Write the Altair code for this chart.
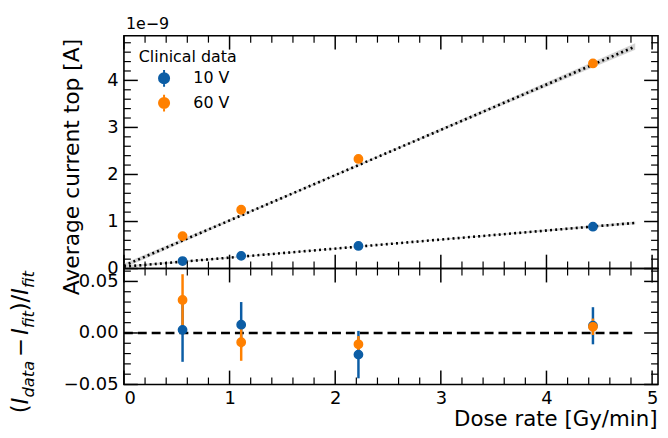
import altair as alt
import pandas as pd
import numpy as np

# ---------------- data ----------------
dose = [0.555, 1.11, 2.22, 4.44]                 # Gy/min
cur_10v = [0.16, 0.27, 0.48, 0.89]                # x 1e-9 A
cur_60v = [0.69, 1.25, 2.33, 4.36]                # x 1e-9 A
res_10v = [0.003, 0.008, -0.021, 0.007]           # (I_data - I_fit)/I_fit
err_10v = [0.031, 0.022, 0.023, 0.018]
res_60v = [0.032, -0.009, -0.011, 0.006]
err_60v = [0.025, 0.018, 0.008, 0.008]
fit_x = [0.0, 4.84]
fit_10v = [0.04, 0.97]
fit_60v = [0.06, 4.72]
band_x = [0.0, 1.2, 2.4, 3.6, 4.84]
band_10v = [0.025, 0.012, 0.008, 0.015, 0.03]
band_60v = [0.05, 0.025, 0.02, 0.04, 0.07]
zero_x = [0.0, 4.84]
series = ["10 V", "60 V"]
colors = ["#0C5DA5", "#FF8000"]

x_major = [0, 1, 2, 3, 4, 5]
x_minor = [round(i * 0.2, 2) for i in range(1, 25) if i % 5 != 0]
ytop_major = [0, 1, 2, 3, 4]
ytop_minor = [round(i * 0.2, 2) for i in range(1, 25) if i % 5 != 0]
ybot_major = [-0.05, 0.0, 0.05]
ybot_minor = [round(i * 0.01, 3) for i in range(-4, 7) if i % 5 != 0]

FONT = "DejaVu Sans"
W, H1, H2 = 539, 235, 117
XMAX = 5.056
MAJ, MIN = 14, 7

# ---------------- tables ----------------
pts = pd.DataFrame({
    "x": dose * 2,
    "y": cur_10v + cur_60v,
    "series": [series[0]] * 4 + [series[1]] * 4,
})
res = pd.DataFrame({
    "x": dose * 2,
    "y": res_10v + res_60v,
    "err": err_10v + err_60v,
    "series": [series[0]] * 4 + [series[1]] * 4,
})
res["lo"] = res["y"] - res["err"]
res["hi"] = res["y"] + res["err"]
fit = pd.DataFrame({
    "x": fit_x * 2,
    "y": fit_10v + fit_60v,
    "series": [series[0]] * 2 + [series[1]] * 2,
})
band = pd.DataFrame({
    "x": band_x * 2,
    "hw": band_10v + band_60v,
    "series": [series[0]] * 5 + [series[1]] * 5,
})
# band centred on the straight fit line
band["c"] = list(np.interp(band_x, fit_x, fit_10v)) + list(np.interp(band_x, fit_x, fit_60v))
band["lo"] = band["c"] - band["hw"]
band["hi"] = band["c"] + band["hw"]
zero = pd.DataFrame({"x": zero_x, "y": [0.0, 0.0]})

xs = alt.Scale(domain=[0, XMAX], nice=False, zero=False)
ys_top = alt.Scale(domain=[0, 4.95], nice=False, zero=False)
ys_bot = alt.Scale(domain=[-0.05, 0.0625], nice=False, zero=False)
cs = alt.Scale(domain=series, range=colors)

ax_x_top = alt.Axis(labels=False, ticks=False, domain=False, grid=False, title=None)
ax_x_bot = alt.Axis(values=x_major, ticks=False, tickSize=0, domain=False, grid=False,
                    labelFontSize=18, labelPadding=5, labelFont=FONT, labelColor="black",
                    title="Dose rate [Gy/min]", titleFontSize=21.5, titleFont=FONT,
                    titleFontWeight="normal", titleColor="black", titleAlign="right",
                    titleX=538, titleY=41.5, titleBaseline="alphabetic", format="d")
ax_y_top = alt.Axis(values=ytop_major, ticks=False, tickSize=0, domain=False, grid=False,
                    labelFontSize=18, labelPadding=6, labelFont=FONT, labelColor="black",
                    format="d", title="Average current top [A]", titleFontSize=22,
                    titleFont=FONT, titleFontWeight="normal", titleColor="black",
                    titleAngle=270, titleAlign="center", titleBaseline="alphabetic",
                    titleX=-46, titleY=132)
ax_y_bot = alt.Axis(values=ybot_major, ticks=False, tickSize=0, domain=False, grid=False,
                    labelFontSize=18, labelPadding=6, labelFont=FONT, labelColor="black",
                    format=".2f", title=None)

legend = alt.Legend(
    title="Clinical data", orient="none", legendX=15, legendY=14,
    titleFontSize=16, titleFont=FONT, titleFontWeight="normal", titleColor="black",
    labelFontSize=16, labelFont=FONT, labelColor="black",
    symbolType="M0,-1L0,1M-0.6,0A0.6,0.6,0,1,1,0.6,0A0.6,0.6,0,1,1,-0.6,0Z",
    symbolSize=289, symbolStrokeWidth=2, symbolOffset=16, labelOffset=20,
    rowPadding=0, titlePadding=3.5, padding=0,
)


def tick_layers(xmaj, xmin, ymaj, ymin, xaxis, yaxis, ysc, h):
    out = []
    for vals, ln, sw in ((xmaj, MAJ, 1.5), (xmin, MIN, 1.2)):
        d = pd.DataFrame({"v": vals})
        base = alt.Chart(d).mark_rule(color="black", strokeWidth=sw)
        out.append(base.encode(x=alt.X("v:Q", scale=xs, axis=xaxis),
                               y=alt.value(h), y2=alt.value(h - ln)))
        out.append(base.encode(x=alt.X("v:Q", scale=xs, axis=xaxis),
                               y=alt.value(0), y2=alt.value(ln)))
    for vals, ln, sw in ((ymaj, MAJ, 1.5), (ymin, MIN, 1.2)):
        d = pd.DataFrame({"v": vals})
        base = alt.Chart(d).mark_rule(color="black", strokeWidth=sw)
        out.append(base.encode(y=alt.Y("v:Q", scale=ysc, axis=yaxis),
                               x=alt.value(0), x2=alt.value(ln)))
        out.append(base.encode(y=alt.Y("v:Q", scale=ysc, axis=yaxis),
                               x=alt.value(W), x2=alt.value(W - ln)))
    return out


# ---------------- top panel ----------------
band_l = alt.Chart(band).mark_area(color="#cfcfcf", opacity=0.9).encode(
    x=alt.X("x:Q", scale=xs, axis=ax_x_top),
    y=alt.Y("lo:Q", scale=ys_top, axis=ax_y_top),
    y2="hi:Q",
    detail="series:N",
)
fit_l = alt.Chart(fit).mark_line(color="black", strokeDash=[2, 3.2], strokeWidth=2.6).encode(
    x=alt.X("x:Q", scale=xs, axis=ax_x_top),
    y=alt.Y("y:Q", scale=ys_top, axis=ax_y_top),
    detail="series:N",
)
pts_l = alt.Chart(pts).mark_point(filled=True, shape="circle", size=70, strokeWidth=1.5,
                                  opacity=1).encode(
    x=alt.X("x:Q", scale=xs, axis=ax_x_top),
    y=alt.Y("y:Q", scale=ys_top, axis=ax_y_top),
    fill=alt.Fill("series:N", scale=cs, legend=legend),
    stroke=alt.Stroke("series:N", scale=cs, legend=legend),
)
exp_l = alt.Chart(pd.DataFrame({"t": ["1e\u22129"]})).mark_text(
    font=FONT, fontSize=16, align="left", baseline="alphabetic", color="black"
).encode(text="t:N", x=alt.value(2), y=alt.value(-7))

top = alt.layer(
    band_l, fit_l, pts_l, exp_l,
    *tick_layers(x_major, x_minor, ytop_major, ytop_minor, ax_x_top, ax_y_top, ys_top, H1),
).properties(width=W, height=H1)

# ---------------- bottom panel ----------------
zero_l = alt.Chart(zero).mark_line(color="black", strokeDash=[9, 5], strokeWidth=2.5).encode(
    x=alt.X("x:Q", scale=xs, axis=ax_x_bot),
    y=alt.Y("y:Q", scale=ys_bot, axis=ax_y_bot),
)
eb_l = alt.Chart(res).mark_rule(strokeWidth=2.5).encode(
    x=alt.X("x:Q", scale=xs, axis=ax_x_bot),
    y=alt.Y("lo:Q", scale=ys_bot, axis=ax_y_bot),
    y2="hi:Q",
    color=alt.Color("series:N", scale=cs, legend=None),
)
rp_l = alt.Chart(res).mark_point(filled=True, shape="circle", size=70, strokeWidth=1.5,
                                 opacity=1).encode(
    x=alt.X("x:Q", scale=xs, axis=ax_x_bot),
    y=alt.Y("y:Q", scale=ys_bot, axis=ax_y_bot),
    fill=alt.Fill("series:N", scale=cs, legend=None),
    stroke=alt.Stroke("series:N", scale=cs, legend=None),
)

# y label (I_data - I_fit)/I_fit built from pieces (rotated text)
MAIN, SUB = 23, 16.5
pieces = [
    ("(", MAIN, "normal", 0.390),
    ("I", MAIN, "italic", 0.295),
    ("data", SUB, "italic", 2.253),
    ("\u2212", MAIN, "normal", 0.838),
    ("I", MAIN, "italic", 0.295),
    ("fit", SUB, "italic", 1.022),
    (")/", MAIN, "normal", 0.727),
    ("I", MAIN, "italic", 0.295),
    ("fit", SUB, "italic", 1.022),
]
label_layers = []
ypos = 412 - 266
for txt, fs, style, adv in pieces:
    if txt == "\u2212":
        ypos -= 3.5
    xb = (33 - 124) if fs == SUB else (27 - 124)
    label_layers.append(
        alt.Chart(pd.DataFrame({"t": [txt]})).mark_text(
            font=FONT, fontSize=fs, fontStyle=style, angle=270, align="left",
            baseline="alphabetic", color="black"
        ).encode(text="t:N", x=alt.value(xb), y=alt.value(ypos))
    )
    ypos -= adv * fs
    if txt == "\u2212":
        ypos -= 3.5

bottom = alt.layer(
    zero_l, eb_l, rp_l,
    *tick_layers(x_major, x_minor, ybot_major, ybot_minor, ax_x_bot, ax_y_bot, ys_bot, H2),
    *label_layers,
).properties(width=W, height=H2)

chart = alt.vconcat(top, bottom, spacing=0, bounds="flush").resolve_scale(
    fill="independent", stroke="independent", color="independent"
).resolve_legend(fill="independent", stroke="independent", color="independent").properties(
    padding={"left": 1, "top": 5, "right": 0, "bottom": 0}
).configure_view(stroke="black", strokeWidth=1.6).configure_concat(spacing=0)

chart.save("out.html", embed_options={"renderer": "svg", "actions": False})
